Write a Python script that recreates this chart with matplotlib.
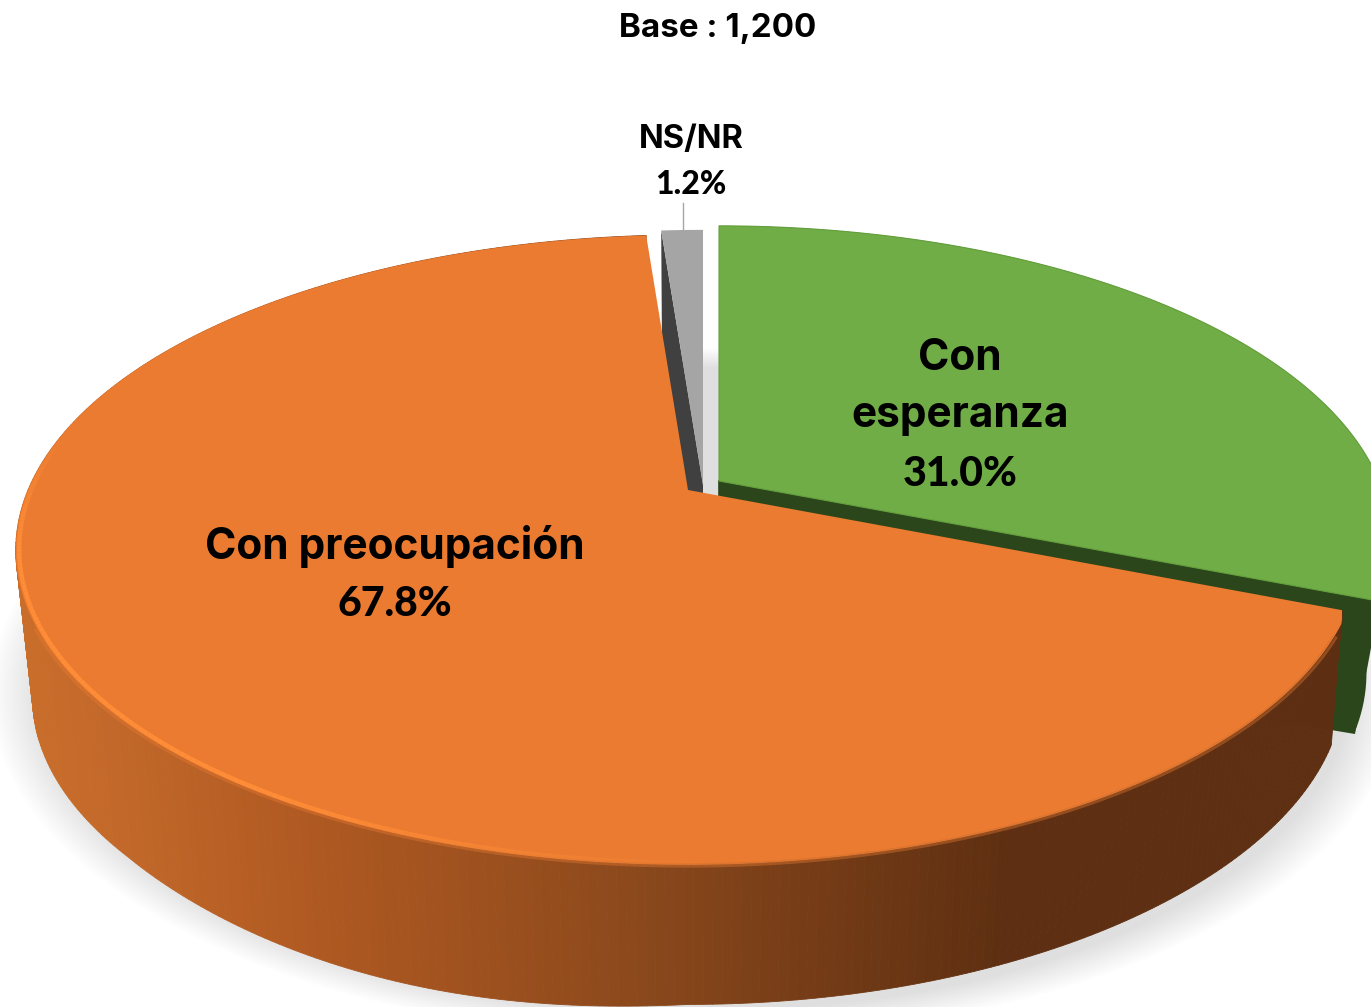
import numpy as np
import matplotlib
matplotlib.use("Agg")
import matplotlib.pyplot as plt
from matplotlib.colors import to_rgb

label_lines = [["Con", "esperanza"], ["Con preocupación"], ["NS/NR"]]
values = [31.0, 67.8, 1.2]
base_text = "Base : 1,200"

GREEN = "#70ad47"
GREEN_DARK = "#2b461b"
ORANGE = "#ea7b31"
GREY = "#a5a5a5"
GREY_DARK = "#404040"

# perspective of the disc, in pixels
A = 660.0
B = 303.6
P = 0.19
DEPTH = 149.0
LOW = 0.975
RIGHT_CUT = 1342

edges = np.cumsum([0] + values) / 100.0 * 2 * np.pi


def project(theta, x0, y0, scale=1.0, r=1.0):
    u = r * np.sin(theta)
    v = r * np.cos(theta)
    w = 1 + P * v
    return x0 + scale * A * u / w, y0 - scale * B * v / w


def lower_rim(theta, x0, y0):
    # bottom edge of the wall, not quite the same ellipse as the top
    x, y = project(theta, x0, y0, LOW)
    d = x - x0
    y = y - 11 * (np.maximum(d, 0) / 640) ** 2
    y = y + 9 * np.clip(np.sin(np.pi * np.minimum(d, 0) / -560), 0, 1)
    return x, y


def top_poly(a0, a1, x0, y0):
    t = np.linspace(a0, a1, 300)
    x, y = project(t, x0, y0)
    return np.r_[x0, x], np.r_[y0, y]


fig = plt.figure(figsize=(13.71, 10.07), dpi=100)
ax = fig.add_axes([0, 0, 1, 1])
ax.set_xlim(0, 1371)
ax.set_ylim(1007, 0)
ax.axis("off")

# soft shadow under the whole disc
t = np.linspace(0, 2 * np.pi, 400)
sx0, sy0 = 695, 628
xs, ys = project(t, sx0, sy0, LOW)
for f in np.linspace(1, 0, 16):
    x = sx0 + (xs - sx0) * (1.0 + 0.075 * f)
    y = sy0 + (ys - sy0) * (1.05 + 0.075 * f)
    ax.fill(x, y, color="black", alpha=0.0075, lw=0, zorder=1)

# NS/NR slice
gx, gy = 703, 485
xt, yt = project(edges[2], gx, gy)
xb, yb = lower_rim(edges[2], gx, gy + DEPTH)
ax.fill([gx, xt, xb, gx], [gy, yt, yb, gy + DEPTH], color=GREY_DARK, lw=0, zorder=2)
x, y = top_poly(edges[2], edges[3], gx, gy)
x = np.minimum(x, gx)
ax.fill(x, y, color=GREY, lw=0, zorder=3)

# Con esperanza slice
hx, hy = 719, 481
tw = np.linspace(edges[0], edges[1], 100)
xt, yt = project(tw, hx, hy)
xb, yb = lower_rim(tw, hx - 8, hy + 146)
xb = np.maximum(xb, hx)
ax.fill(np.r_[xt, xb[::-1]], np.r_[yt, yb[::-1]], color=GREEN_DARK, lw=0, zorder=4)
ax.fill([hx, xt[-1], xb[-1], hx], [hy, yt[-1], yb[-1], hy + 146], facecolor=GREEN_DARK,
        edgecolor=GREEN_DARK, lw=1.2, zorder=4)
x, y = top_poly(edges[0], edges[1], hx, hy)
ax.fill(x, y, facecolor=GREEN, edgecolor="#64a03d", lw=0.8, zorder=5)

# Con preocupacion slice
ox, oy = 688, 490
shade_x = [30, 120, 300, 500, 650, 800, 950, 1010, 1340]
shade_c = [to_rgb(c) for c in ["#c96d2a", "#c2682a", "#b15a22", "#9c501e", "#8a481c",
                               "#773d17", "#653313", "#5e2f12", "#5e2f12"]]
tw = np.linspace(edges[1], edges[2], 360)
xt, yt = project(tw, ox, oy)
xt = np.minimum(xt, RIGHT_CUT)
xb, yb = lower_rim(tw, ox, oy + DEPTH)
for i in range(len(tw) - 1):
    mx = (xt[i] + xb[i]) / 2
    c = [np.interp(mx, shade_x, [k[j] for k in shade_c]) for j in range(3)]
    ax.fill([xt[i], xt[i + 1], xb[i + 1], xb[i]], [yt[i], yt[i + 1], yb[i + 1], yb[i]],
            facecolor=c, edgecolor=c, lw=0.6, zorder=6)

x, y = top_poly(edges[1], edges[2], ox, oy)
x = np.minimum(x, RIGHT_CUT)
ax.fill(x, y, color=ORANGE, lw=0, zorder=7)

# blurred edge on the dark side, brighter rim on the lit side
tr = np.linspace(edges[1] + 0.08, 1.56 * np.pi, 260)
xo, yo = project(tr, ox, oy, r=1.003)
xi, yi = project(tr, ox, oy, r=0.998)
xr, yr = project(tr, ox, oy, r=0.995)
for i in range(len(tr) - 1):
    lit = np.clip((tr[i] - 0.98 * np.pi) / (0.2 * np.pi), 0, 1)
    fade = np.clip((1.56 * np.pi - tr[i]) / (0.12 * np.pi), 0, 1)
    k = lit * fade
    if tr[i] < 1.36 * np.pi:
        ax.plot(xo[i:i + 2], yo[i:i + 2], color=ORANGE, lw=2.0, alpha=0.4,
                solid_capstyle="butt", zorder=8)
    if tr[i] < 1.15 * np.pi:
        ax.plot(xi[i:i + 2], yi[i:i + 2], color="#b85f26", lw=1.2,
                alpha=0.22 * (1 - lit), solid_capstyle="butt", zorder=8)
    if k > 0.02:
        ax.plot(xr[i:i + 2], yr[i:i + 2], color="#ff8c36", lw=3.2, alpha=k,
                solid_capstyle="butt", zorder=8)

# texts
word = dict(ha="center", va="center", fontweight="bold", family=["Inter", "DejaVu Sans"], zorder=10)
num = dict(ha="center", va="center", fontweight="black", family=["Lato", "DejaVu Sans"], zorder=10)
ax.text(718, 29, base_text, fontsize=23.9, **word)
ax.text(960, 358, label_lines[0][0], fontsize=30.5, **word)
ax.text(960, 416, label_lines[0][1], fontsize=30.5, **word)
ax.text(960, 474, "%.1f%%" % values[0], fontsize=29.5, **num)
ax.text(395, 546, label_lines[1][0], fontsize=30.5, **word)
ax.text(395, 604, "%.1f%%" % values[1], fontsize=29.5, **num)
ax.text(691, 139, label_lines[2][0], fontsize=23.5, **word)
ax.text(691, 184, "%.1f%%" % values[2], fontsize=23, **num)
ax.plot([682.5, 682.5], [203, 229], color="#a6a6a6", lw=1.0, zorder=2)

fig.savefig("out.png", dpi=100)
